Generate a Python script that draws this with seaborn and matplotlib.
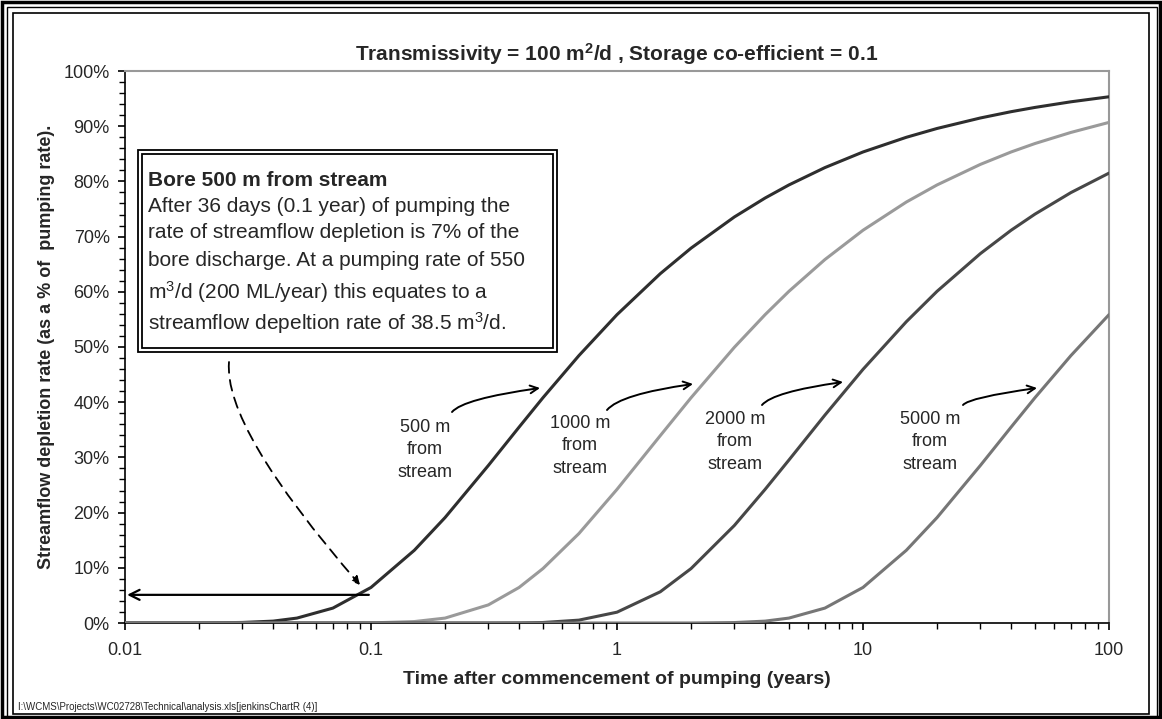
import numpy as np
import pandas as pd
import seaborn as sns
import matplotlib.pyplot as plt
from matplotlib.patches import Rectangle
from matplotlib.ticker import PercentFormatter, FuncFormatter, LogLocator, MultipleLocator

# time after pumping starts (years)
years = [0.01, 0.015, 0.02, 0.03, 0.04, 0.05, 0.07, 0.1, 0.15, 0.2, 0.3, 0.4, 0.5, 0.7,
         1, 1.5, 2, 3, 4, 5, 7, 10, 15, 20, 30, 40, 50, 70, 100]

# streamflow depletion as fraction of pumping rate, one list per bore distance
dep_500 = [0.0, 0.0, 0.0, 0.001, 0.0034, 0.0089, 0.027, 0.0644, 0.1317, 0.191, 0.2854, 0.3549,
           0.4081, 0.4844, 0.5586, 0.6329, 0.6791, 0.7356, 0.7699, 0.7936, 0.825, 0.8533,
           0.8799, 0.8959, 0.9149, 0.9263, 0.934, 0.9442, 0.9533]
dep_1000 = [0.0, 0.0, 0.0, 0.0, 0.0, 0.0, 0.0, 0.0002, 0.0026, 0.0089, 0.0328, 0.0644, 0.0986,
            0.162, 0.2421, 0.3395, 0.4081, 0.4995, 0.5586, 0.6009, 0.6584, 0.7115, 0.7626,
            0.7936, 0.8308, 0.8533, 0.8686, 0.8887, 0.9069]
dep_2000 = [0.0, 0.0, 0.0, 0.0, 0.0, 0.0, 0.0, 0.0, 0.0, 0.0, 0.0, 0.0002, 0.0009, 0.0052,
            0.0196, 0.0566, 0.0986, 0.1767, 0.2421, 0.2953, 0.3766, 0.4595, 0.5458, 0.6009,
            0.6692, 0.7115, 0.7407, 0.7797, 0.815]
dep_5000 = [0.0, 0.0, 0.0, 0.0, 0.0, 0.0, 0.0, 0.0, 0.0, 0.0, 0.0, 0.0, 0.0, 0.0,
            0.0, 0.0, 0.0, 0.0008, 0.0034, 0.0089, 0.027, 0.0644, 0.1317, 0.191, 0.2854,
            0.3549, 0.4081, 0.4844, 0.5586]

distances = ['500 m', '1000 m', '2000 m', '5000 m']
line_colors = ['#2e2e2e', '#9a9a9a', '#474747', '#767676']

df = pd.DataFrame({
    'years': years * 4,
    'depletion': dep_500 + dep_1000 + dep_2000 + dep_5000,
    'distance': np.repeat(distances, len(years)),
})

sns.set_style('ticks')
plt.rcParams['font.family'] = ['Liberation Sans', 'DejaVu Sans']
plt.rcParams['mathtext.fontset'] = 'custom'
plt.rcParams['mathtext.rm'] = 'Liberation Sans'

W, H = 1162, 719
fig = plt.figure(figsize=(W / 100, H / 100), dpi=100)
fig.patch.set_facecolor('white')


def fx(x):
    return x / W


def fy(y):
    return 1 - y / H


ax = fig.add_axes([fx(125), fy(623), fx(1109) - fx(125), fy(71) - fy(623)])
sns.lineplot(data=df, x='years', y='depletion', hue='distance', hue_order=distances,
             palette=dict(zip(distances, line_colors)), linewidth=2.2, legend=False,
             ax=ax, zorder=3)

ax.set_xscale('log')
ax.set_xlim(0.01, 100)
ax.set_ylim(0, 1)
ax.xaxis.set_major_locator(LogLocator(base=10, numticks=10))
ax.xaxis.set_minor_locator(LogLocator(base=10, subs=np.arange(2, 10), numticks=20))
ax.xaxis.set_major_formatter(FuncFormatter(lambda v, _: f'{v:g}'))
ax.yaxis.set_major_locator(MultipleLocator(0.1))
ax.yaxis.set_minor_locator(MultipleLocator(0.02))
ax.yaxis.set_major_formatter(PercentFormatter(1.0, decimals=0))
ax.tick_params(axis='both', which='major', length=5, width=1.2, color='black',
               labelsize=13, pad=6)
ax.tick_params(axis='both', which='minor', length=4, width=1, color='black')
ax.tick_params(axis='x', pad=9)
for side in ['left', 'bottom']:
    ax.spines[side].set_color('black')
    ax.spines[side].set_linewidth(1.2)
for side in ['top', 'right']:
    ax.spines[side].set_color('#999999')
    ax.spines[side].set_linewidth(1.5)

ax.set_xlabel('Time after commencement of pumping (years)', fontsize=14,
              fontweight='bold', labelpad=8)
ax.set_ylabel('Streamflow depletion rate (as a % of  pumping rate).', fontsize=13,
              fontweight='bold', labelpad=6)
ax.set_title(r'Transmissivity = 100 m$\mathregular{^2}$/d , Storage co-efficient = 0.1',
             fontsize=15, fontweight='bold', pad=7)

# curve labels with hooked arrows
label_pos = [(425, 450), (580, 446), (735, 442), (930, 442)]
label_start = [(452, 412), (607, 410), (762, 405), (963, 405)]
label_tip = [(540, 388), (693, 384), (843, 382), (1037, 388)]
for name, (lx, ly), (sx, sy), (tx, ty) in zip(distances, label_pos, label_start, label_tip):
    fig.text(fx(lx), fy(ly), name + '\nfrom\nstream', ha='center', va='center',
             fontsize=13, linespacing=1.4)
    ax.annotate('', xy=(fx(tx), fy(ty)), xycoords='figure fraction',
                xytext=(fx(sx), fy(sy)), textcoords='figure fraction',
                arrowprops=dict(arrowstyle='->', color='black', lw=1.4,
                                connectionstyle='angle3,angleA=50,angleB=8',
                                shrinkA=0, shrinkB=0, mutation_scale=14))

# horizontal arrow at the 0.1 year reading
ax.annotate('', xy=(0.0102, 0.051), xytext=(0.098, 0.051),
            arrowprops=dict(arrowstyle='->', color='black', lw=1.6, shrinkA=0, shrinkB=0,
                            mutation_scale=18))

# dashed arrow from the note to the curve
ax.annotate('', xy=(fx(360), fy(585)), xycoords='figure fraction',
            xytext=(fx(229), fy(362)), textcoords='figure fraction',
            arrowprops=dict(arrowstyle='-|>', color='black', lw=1.3, linestyle=(0, (6, 4)),
                            connectionstyle='angle3,angleA=-95,angleB=-49',
                            shrinkA=0, shrinkB=0, mutation_scale=12))

# note box with double border
for inset, lw in [(0, 1.3), (4, 1.3)]:
    fig.patches.append(Rectangle((fx(138 + inset), fy(352 - inset)),
                                 fx(557 - 138 - 2 * inset), (352 - 150 - 2 * inset) / H,
                                 transform=fig.transFigure, fill=(inset == 0),
                                 facecolor='white', edgecolor='black', lw=lw, zorder=5))
box_lines = [
    ('Bore 500 m from stream', 180, 'bold'),
    ('After 36 days (0.1 year) of pumping the', 207, 'normal'),
    ('rate of streamflow depletion is 7% of the', 233, 'normal'),
    ('bore discharge. At a pumping rate of 550', 261, 'normal'),
    (r'm$\mathregular{^3}$/d (200 ML/year) this equates to a', 292, 'normal'),
    (r'streamflow depeltion rate of 38.5 m$\mathregular{^3}$/d.', 323, 'normal'),
]
for txt, y, wt in box_lines:
    fig.text(fx(148), fy(y), txt, ha='left', va='center', fontsize=15, fontweight=wt,
             zorder=6)

# chart frames
fig.patches.append(Rectangle((fx(13), fy(714)), fx(1149 - 13), (714 - 13) / H,
                             transform=fig.transFigure, fill=False, edgecolor='black',
                             lw=1.2))
fig.patches.append(Rectangle((fx(2), fy(717)), fx(1158), 715 / H,
                             transform=fig.transFigure, fill=False, edgecolor='black',
                             lw=2.5))
fig.patches.append(Rectangle((fx(7), fy(717)), fx(1150), 710 / H,
                             transform=fig.transFigure, fill=False, edgecolor='black',
                             lw=1))

fig.text(fx(18), fy(707), r'I:\WCMS\Projects\WC02728\Technical\analysis.xls[jenkinsChartR (4)]',
         fontsize=7, ha='left', va='center')

fig.savefig('out.png', dpi=100)
